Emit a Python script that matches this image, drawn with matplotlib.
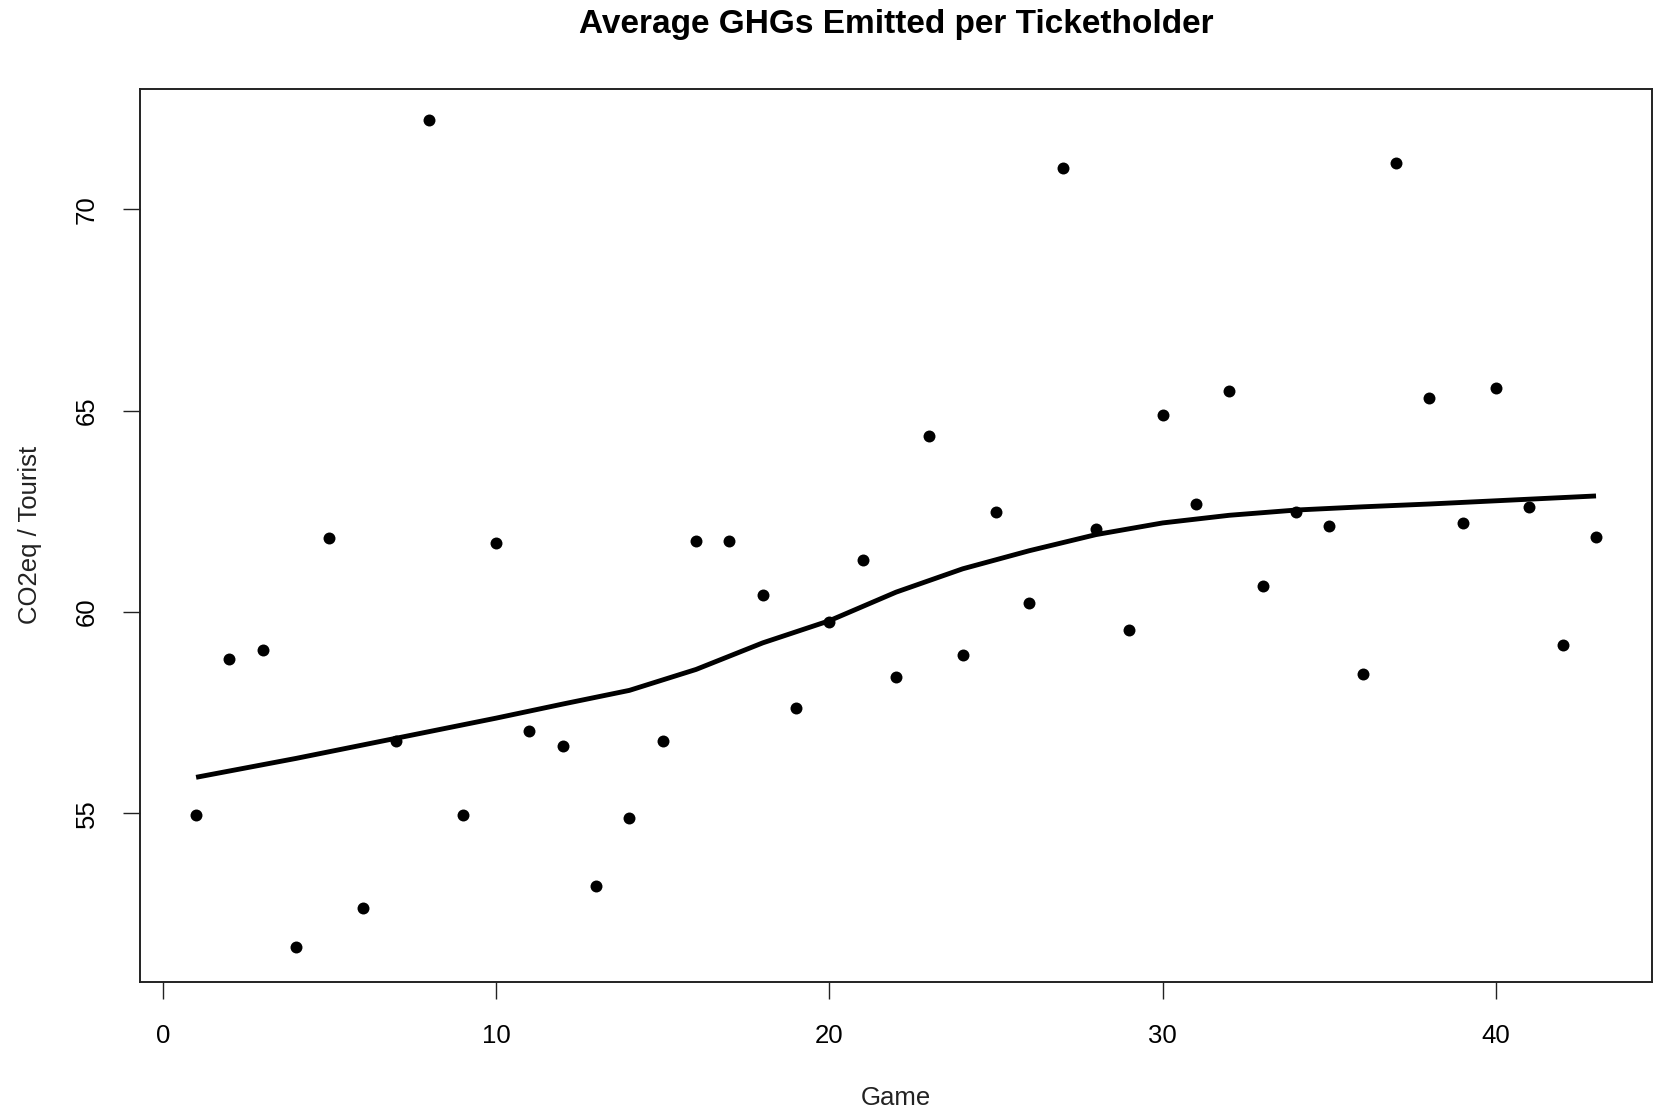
import matplotlib
matplotlib.use("Agg")
import matplotlib.pyplot as plt

plt.rcParams['font.family'] = ['Liberation Sans', 'DejaVu Sans']

game = list(range(1, 44))
co2_per_tourist = [54.95, 58.83, 59.06, 51.67, 61.84, 52.64, 56.78, 72.23, 54.95, 61.71,
                   57.04, 56.68, 53.19, 54.87, 56.78, 61.76, 61.76, 60.43, 57.60, 59.75,
                   61.29, 58.38, 64.36, 58.93, 62.47, 60.22, 71.02, 62.05, 59.56, 64.89,
                   62.68, 65.49, 60.64, 62.47, 62.13, 58.46, 71.15, 65.31, 62.21, 65.57,
                   62.60, 59.17, 61.87]

trend_x = [1, 4, 7, 10, 12, 14, 16, 18, 20, 22, 24, 26, 28, 30, 32, 34, 36, 38, 40, 43]
trend_y = [55.89, 56.36, 56.86, 57.36, 57.71, 58.05, 58.57, 59.23, 59.78, 60.49,
           61.07, 61.52, 61.92, 62.21, 62.40, 62.53, 62.61, 62.68, 62.76, 62.88]

xticks = [0, 10, 20, 30, 40]
yticks = [55, 60, 65, 70]

fig = plt.figure(figsize=(16.54, 11.16), dpi=100)
ax = fig.add_axes([0.0847, 0.1199, 0.9141, 0.8007])

ax.scatter(game, co2_per_tourist, s=74, color='black', zorder=3, linewidths=0)
ax.plot(trend_x, trend_y, color='black', lw=3.5, solid_capstyle='butt',
        solid_joinstyle='round', zorder=2)

ax.set_xlim(-0.68, 44.68)
ax.set_ylim(50.80, 73.00)
ax.set_xticks(xticks)
ax.set_yticks(yticks)
ax.set_xticklabels([str(t) for t in xticks])
ax.set_yticklabels([str(t) for t in yticks], rotation=90, va='center')

ax.tick_params(axis='both', length=12, width=1.0, labelsize=18.5, pad=18, color='#222222')
for sp in ax.spines.values():
    sp.set_linewidth(1.4)
    sp.set_color('#222222')

fig.text(0.5417, 0.0165, 'Game', ha='center', va='center', fontsize=18.5, color='#222222')
fig.text(0.018, 0.5206, 'CO2eq / Tourist', ha='center', va='center', rotation=90,
         fontsize=18.5, color='#222222')
fig.text(0.5417, 0.978, 'Average GHGs Emitted per Ticketholder', ha='center', va='center',
         fontsize=24, fontweight='bold')

fig.savefig('out.png', dpi=100)
